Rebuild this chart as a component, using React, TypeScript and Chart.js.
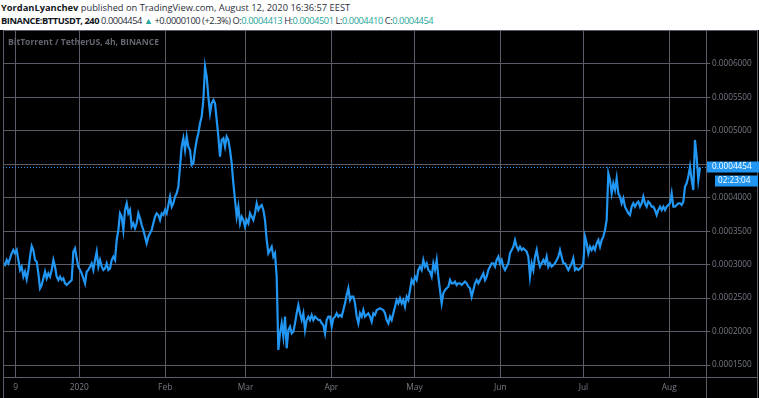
import React, { useEffect, useRef } from "react";
import { Chart, registerables } from "chart.js";

Chart.register(...registerables);

// ---- data -------------------------------------------------------------
// BTT/USDT close prices, in units of 1e-7 USDT, sampled about every 14.44 hours
const SERIES_START_UTC = Date.UTC(2019, 11, 4, 14, 0);
const STEP_HOURS = 14.44;
const PRICE_UNIT = 1e-7;
const closeE7 = [
  3020, 2995, 3070, 3020, 3095, 3170, 3220, 3170, 3220, 3070,
  2921, 2970, 2821, 2896, 2781, 2921, 3120, 3279, 3220, 3070,
  3045, 2871, 2647, 2696, 2796, 2896, 2796, 2871, 2821, 2921,
  3070, 2970, 2821, 2771, 2821, 2771, 2796, 2721, 2696, 2721,
  2746, 2771, 3195, 3244, 3095, 2970, 2921, 2871, 2796, 2721,
  2896, 2921, 2970, 3020, 2921, 3070, 3195, 2970, 3070, 2970,
  2921, 2945, 3020, 2921, 2945, 3070, 3120, 3070, 3369, 3519,
  3768, 3718, 3519, 3818, 3917, 3768, 3818, 3568, 3618, 3543,
  3618, 3768, 3693, 3593, 3519, 3419, 3320, 3419, 3469, 3519,
  3618, 3718, 3768, 3743, 3668, 3768, 3743, 3818, 3768, 3892,
  4017, 3867, 3917, 4017, 4066, 4166, 4465, 4764, 4889, 4714,
  4914, 4764, 4714, 4490, 4515, 4714, 4864, 4964, 5113, 5213,
  5462, 5960, 5811, 5512, 5263, 5412, 5462, 5412, 5163, 4914,
  4615, 4864, 4889, 4764, 4914, 4864, 4714, 4515, 4216, 3967,
  3718, 3867, 3618, 3718, 3668, 3568, 3668, 3618, 3768, 3718,
  3668, 3768, 3917, 3818, 3867, 3892, 3818, 3668, 3369, 3170,
  3220, 3269, 3120, 3170, 2821, 1725, 1974, 2123, 1924, 2223,
  1750, 2024, 2073, 1974, 1999, 2123, 2273, 2397, 2273, 2173,
  2273, 2024, 2173, 2223, 2173, 2248, 2173, 2223, 2198, 2173,
  2173, 2123, 2098, 1974, 2173, 2223, 2223, 2073, 2198, 2223,
  2273, 2223, 2248, 2223, 2322, 2422, 2547, 2647, 2472, 2522,
  2522, 2422, 2223, 2123, 2273, 2223, 2322, 2223, 2248, 2273,
  2223, 2148, 2273, 2248, 2322, 2332, 2347,
  2332, 2322, 2273, 2173, 2123, 2223, 2173, 2273, 2372, 2472,
  2422, 2497, 2422, 2472, 2372, 2522, 2472, 2621, 2771, 2721,
  2821, 2771, 2921, 2970, 2921, 3070, 2970, 3020, 2921, 2896,
  2821, 3020, 2921, 3070, 2821, 2621, 2422, 2572, 2621, 2647,
  2671, 2771, 2721, 2721, 2746, 2696, 2721, 2721, 2696, 2721,
  2746, 2721, 2671, 2647, 2522, 2621, 2721, 2771, 2721, 2771,
  2821, 2871, 2771, 2821, 2921, 2970, 3020, 3020, 2970, 3070,
  3120, 3020, 3070, 2970, 2921, 2970, 3020, 3170, 3220, 3269,
  3369, 3269, 3220, 3269, 3220, 3244, 3220, 3195, 3120, 2821,
  3020, 2921, 3120, 3220, 3070, 2970, 3020, 3070, 3020, 3120,
  2970, 3020, 2970, 2995, 3020, 3070, 3120, 3220, 3120, 3020,
  3020, 2970, 2921, 2970, 3020, 3095, 2921, 2945, 2921, 2945,
  2970, 3020, 3419, 3320, 3170, 3269, 3220, 3269, 3220, 3320,
  3369, 3269, 3369, 3419, 3519, 3668, 4365, 4266, 4066, 4216,
  4116, 4291, 4066, 4017, 3917, 3992, 3867, 3818, 3768, 3743,
  3867, 3917, 3867, 3917, 3942, 3867, 3917, 4017, 3917, 3867,
  3942, 3917, 3867, 3867, 3818, 3743, 3818, 3867, 3818, 3867,
  3818, 3867, 3892, 3917, 4066, 3867, 3867, 3892, 3917, 3917,
  3892, 3942, 4166, 4216, 4316, 4465, 4266, 4116, 4864, 4615,
  4266, 4454,
];

const tickDates = [
  "2019-12-09", "2020-01-01", "2020-02-01", "2020-03-01", "2020-04-01",
  "2020-05-01", "2020-06-01", "2020-07-01", "2020-08-01",
];
const tickLabels = ["9", "2020", "Feb", "Mar", "Apr", "May", "Jun", "Jul", "Aug"];
const priceTicks = [
  0.00015, 0.0002, 0.00025, 0.0003, 0.00035, 0.0004, 0.00045, 0.0005, 0.00055, 0.0006,
];
const lastPrice = 0.0004454;
const countdown = "02:23:04";
const symbolTitle = "BitTorrent / TetherUS, 4h, BINANCE";

const headerAuthor = "YordanLyanchev";
const headerPublished = " published on TradingView.com, August 12, 2020 16:36:57 EEST";
const headerSymbol = "BINANCE:BTTUSDT, 240";
const headerLast = "0.0004454";
const headerChange = "+0.0000100 (+2.3%)";
const ohlcKeys = ["O", "H", "L", "C"];
const ohlcValues = ["0.0004413", "0.0004501", "0.0004410", "0.0004454"];

// ---- view / style -------------------------------------------------------
const X_MIN_DAY = -27.55;
const X_MAX_DAY = 226.25;
const Y_MIN = 0.0001321;
const Y_MAX = 0.0006508;

const BLUE = "#2196f3";
const GRID = "#5a5d67";
const LABEL = "#787b86";
const TEAL = "#26a69a";
const FONT = "'Open Sans', 'Noto Sans', sans-serif";

const DAY_MS = 86400000;
const EPOCH_2020 = Date.UTC(2020, 0, 1);

function dayOf(dateStr: string) {
  const [y, m, d] = dateStr.split("-").map(Number);
  return (Date.UTC(y, m - 1, d) - EPOCH_2020) / DAY_MS;
}

export default function App() {
  const ref = useRef<HTMLCanvasElement>(null);

  useEffect(() => {
    document.body.style.margin = "0";
    const canvas = ref.current;
    if (!canvas) return;

    const points = closeE7.map((v, i) => ({
      x: (SERIES_START_UTC + i * STEP_HOURS * 3600000 - EPOCH_2020) / DAY_MS,
      y: v * PRICE_UNIT,
    }));
    const tickDays = tickDates.map(dayOf);

    const overlay = {
      id: "overlay",
      beforeDraw(chart: any) {
        const { ctx, width, height } = chart;
        ctx.save();
        ctx.fillStyle = "#000";
        ctx.fillRect(0, 0, width, height);
        ctx.restore();
      },
      afterDraw(chart: any) {
        const { ctx, chartArea: a, scales, width, height } = chart;
        const ys = scales.y;
        ctx.save();
        // frame
        ctx.strokeStyle = GRID;
        ctx.lineWidth = 1;
        ctx.beginPath();
        ctx.moveTo(3.5, 0);
        ctx.lineTo(3.5, height);
        ctx.moveTo(3, 0.5);
        ctx.lineTo(width - 1, 0.5);
        ctx.moveTo(width - 1.5, 0);
        ctx.lineTo(width - 1.5, height);
        ctx.moveTo(Math.round(a.right) + 0.5, 0);
        ctx.lineTo(Math.round(a.right) + 0.5, height);
        ctx.moveTo(3, Math.round(a.bottom) + 0.5);
        ctx.lineTo(width - 1, Math.round(a.bottom) + 0.5);
        ctx.stroke();

        // symbol title
        ctx.fillStyle = "#62656f";
        ctx.font = `bold 8.6px ${FONT}`;
        ctx.textBaseline = "middle";
        ctx.textAlign = "left";
        ctx.fillText(symbolTitle, 8, 13);

        // last price dotted line
        const py = Math.round(ys.getPixelForValue(lastPrice)) + 0.5;
        ctx.strokeStyle = BLUE;
        ctx.setLineDash([1, 2]);
        ctx.beginPath();
        ctx.moveTo(a.left, py);
        ctx.lineTo(a.right + 4, py);
        ctx.stroke();
        ctx.setLineDash([]);

        // last price label
        ctx.fillStyle = BLUE;
        ctx.fillRect(a.right + 1, py - 6, width - a.right - 1, 11);
        ctx.fillRect(a.right + 9, py + 8, width - a.right - 10, 11);
        ctx.fillStyle = "#fff";
        ctx.font = `8.2px ${FONT}`;
        ctx.fillText(lastPrice.toFixed(7), a.right + 6, py - 0.5);
        ctx.fillText(countdown, a.right + 12, py + 13.5);
        ctx.restore();
      },
    };

    const chart = new Chart(canvas, {
      type: "line",
      data: {
        datasets: [
          {
            data: points,
            borderColor: BLUE,
            borderWidth: 2.2,
            pointRadius: 0,
            tension: 0,
            fill: false,
          },
        ],
      },
      options: {
        animation: false,
        responsive: false,
        devicePixelRatio: 1,
        events: [],
        layout: { padding: { left: 3, top: 0, right: 0, bottom: 0 } },
        plugins: { legend: { display: false }, tooltip: { enabled: false } },
        scales: {
          x: {
            type: "linear",
            min: X_MIN_DAY,
            max: X_MAX_DAY,
            afterBuildTicks: (s: any) => {
              s.ticks = tickDays.map((v) => ({ value: v }));
            },
            afterFit: (s: any) => {
              s.height = 21;
              s.paddingLeft = 0;
              s.paddingRight = 0;
            },
            grid: { color: GRID, drawTicks: false, lineWidth: 1 },
            border: { color: GRID },
            ticks: {
              color: LABEL,
              font: { family: FONT, size: 8.4 },
              padding: 6,
              maxRotation: 0,
              autoSkip: false,
              callback: (_v: any, i: number) => tickLabels[i],
            },
          },
          y: {
            position: "right",
            min: Y_MIN,
            max: Y_MAX,
            afterBuildTicks: (s: any) => {
              s.ticks = priceTicks.map((v) => ({ value: v }));
            },
            afterFit: (s: any) => {
              s.width = 53;
              s.paddingTop = 0;
              s.paddingBottom = 0;
            },
            grid: { color: GRID, drawTicks: true, tickLength: 4, lineWidth: 1 },
            border: { color: GRID },
            ticks: {
              color: LABEL,
              font: { family: FONT, size: 8.2 },
              padding: 2,
              callback: (v: any) =>
                Math.abs(Number(v) - lastPrice) < 0.00002 ? "" : Number(v).toFixed(7),
            },
          },
        },
      },
      plugins: [overlay],
    } as any);

    return () => chart.destroy();
  }, []);

  const line: React.CSSProperties = {
    position: "absolute",
    left: 1,
    fontSize: 9.3,
    lineHeight: "12px",
    color: "#2a2e39",
    whiteSpace: "nowrap",
  };

  return (
    <div
      style={{
        position: "relative",
        width: 759,
        height: 398,
        background: "#fff",
        fontFamily: FONT,
        overflow: "hidden",
      }}
    >
      <div style={{ ...line, top: 2 }}>
        <b style={{ color: "#131722" }}>{headerAuthor}</b>
        {headerPublished}
      </div>
      <div style={{ ...line, top: 15, letterSpacing: "-0.45px" }}>
        <b style={{ color: "#131722" }}>{headerSymbol}</b> {headerLast}{" "}
        <span style={{ color: TEAL, fontSize: 9 }}>▲</span> {headerChange}
        {ohlcKeys.map((k, i) => (
          <span key={k}>
            {" "}
            {k}:<span style={{ color: TEAL }}>{ohlcValues[i]}</span>
          </span>
        ))}
      </div>
      <div
        style={{
          position: "absolute",
          left: 0,
          top: 30,
          width: 759,
          height: 368,
          background: "#000",
        }}
      >
        <canvas ref={ref} width={759} height={368} style={{ display: "block" }} />
      </div>
    </div>
  );
}
